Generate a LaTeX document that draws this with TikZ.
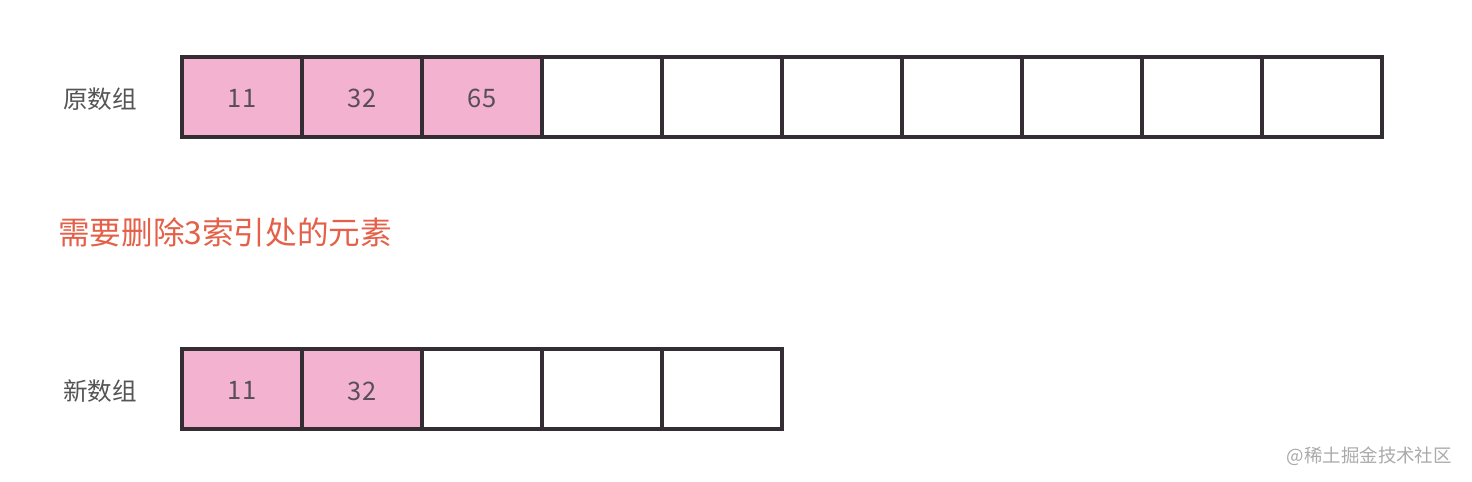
\documentclass[tikz,border=0pt]{standalone}
\usepackage{fontspec}
\setmainfont{Noto Sans CJK SC}
\usetikzlibrary{positioning}
\definecolor{arrPink}{RGB}{243,178,208}
\definecolor{arrEdge}{RGB}{52,46,52}
\definecolor{arrText}{RGB}{88,78,88}
\definecolor{arrLabel}{RGB}{85,85,85}
\definecolor{arrRed}{RGB}{228,96,72}
\definecolor{arrMark}{RGB}{170,170,170}
\tikzset{
  cell/.style={draw=arrEdge, line width=1.9pt, minimum width=2.4cm, minimum height=1.6cm,
    inner sep=0pt, outer sep=0pt, text=arrText, font=\fontsize{14.5}{16}\selectfont},
  full/.style={cell, fill=arrPink},
  rowlabel/.style={text=arrLabel, font=\fontsize{14}{16}\selectfont}
}

\begin{document}
\begin{tikzpicture}[x=0.02cm, y=-0.02cm]
  \useasboundingbox (0,0) rectangle (1472,482);

  % original array
  \node[rowlabel] (oldlbl) at (100,99) {原数组};
  \foreach \v [count=\i from 0] in {11,32,65}
    \node[full, text depth=0pt] (old\i) at (242+120*\i,97) {\raisebox{-2pt}{\v}};
  \foreach \i in {3,...,9}
    \node[cell] (old\i) at (242+120*\i,97) {};

  % hint
  \node[anchor=west, text=arrRed, font=\fontsize{18}{20}\selectfont] (hint) at (52,232) {需要删除3索引处的元素};

  % new array
  \node[rowlabel] (newlbl) at (100,391) {新数组};
  \foreach \v [count=\i from 0] in {11,32}
    \node[full, text depth=0pt] (new\i) at (242+120*\i,389) {\raisebox{-2pt}{\v}};
  \foreach \i in {2,...,4}
    \node[cell] (new\i) at (242+120*\i,389) {};

  % watermark
  \node[anchor=east, text=arrMark, font=\fontsize{10.5}{12}\selectfont] (mark) at (1458,456) {@稀土掘金技术社区};
\end{tikzpicture}
\end{document}
